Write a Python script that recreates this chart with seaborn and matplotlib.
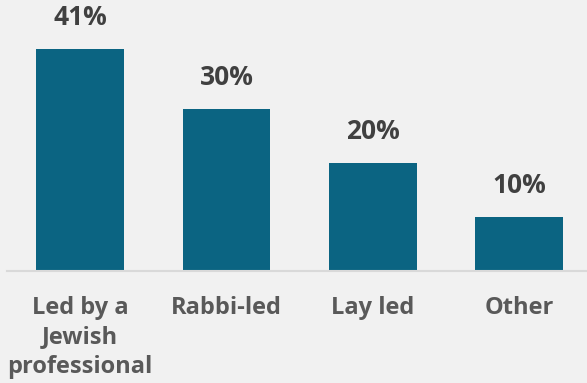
import matplotlib
matplotlib.use("Agg")
import matplotlib.pyplot as plt
import seaborn as sns
import pandas as pd

categories = ["Led by a\nJewish\nprofessional", "Rabbi-led", "Lay led", "Other"]
values = [41, 30, 20, 10]
value_labels = ["41%", "30%", "20%", "10%"]

BG = "#f1f1f1"
BAR = "#0b6482"

sns.set_theme(style="white")
plt.rcParams["font.family"] = ["Open Sans", "DejaVu Sans"]

df = pd.DataFrame({"category": categories, "value": values})

fig = plt.figure(figsize=(5.87, 3.83), dpi=100, facecolor=BG)
ax = fig.add_axes([7 / 587, 112 / 383, 1 - 7 / 587, 271 / 383])
ax.set_facecolor(BG)

sns.barplot(data=df, x="category", y="value", color=BAR, width=0.6,
            saturation=1, linewidth=0, edgecolor=BAR, ax=ax)

ax.set_ylim(0, 50.1)
ax.set_xlim(-0.5, 3.465)

for i, (v, lab) in enumerate(zip(values, value_labels)):
    ax.annotate(lab, (i, v), xytext=(0, 13), textcoords="offset points",
                ha="center", va="bottom", fontsize=19, fontweight="bold",
                color="#404040")

for s in ["top", "right", "left"]:
    ax.spines[s].set_visible(False)
ax.spines["bottom"].set_color("#d9d9d9")
ax.spines["bottom"].set_linewidth(1.5)

ax.set_yticks([])
ax.set_xlabel("")
ax.set_ylabel("")
ax.tick_params(axis="x", length=0, pad=18)
for t in ax.get_xticklabels():
    t.set_fontsize(17)
    t.set_fontweight("bold")
    t.set_color("#595959")
    t.set_linespacing(1.3)

fig.savefig("out.png", dpi=100, facecolor=BG)
